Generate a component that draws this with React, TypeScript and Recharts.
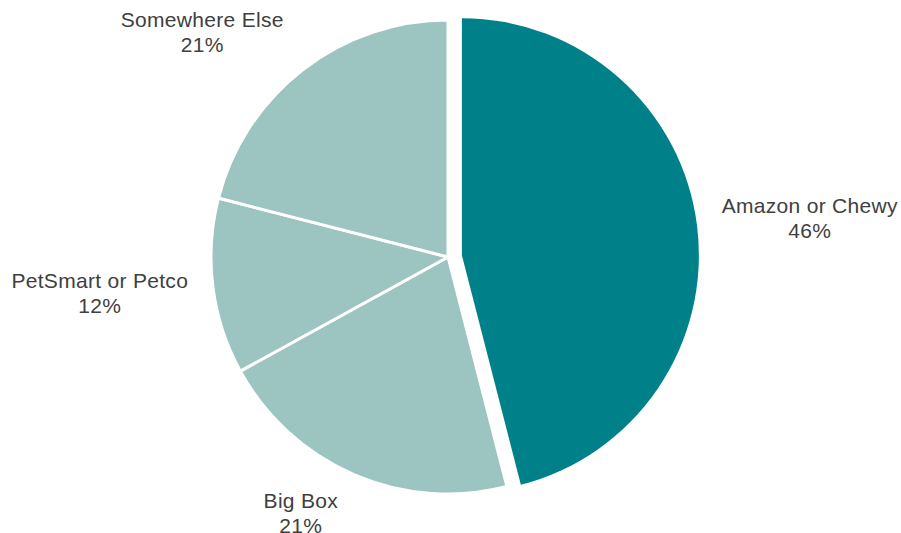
import React from 'react'
import { PieChart, Pie, Cell } from 'recharts'

const categories = ['Amazon or Chewy', 'Big Box', 'PetSmart or Petco', 'Somewhere Else']
const shares = [46, 21, 12, 21]
const pulledOut = 'Amazon or Chewy'

const data = categories.map((name, i) => ({ name, value: shares[i] }))

const DARK = '#00818a'
const LIGHT = '#9cc4c0'
const TEXT = '#404040'
const W = 901
const H = 533
const CX = 448
const CY = 257
const R = 237
const EXPLODE = 14
const FONT = 21
const SPACING = 0.3
const FAMILY = "'Liberation Sans', Arial, sans-serif"
const LINE = 25

const RAD = Math.PI / 180

// offset of the pulled out slice, along its middle angle
const pullIndex = categories.indexOf(pulledOut)
const before = shares.slice(0, pullIndex).reduce((a, b) => a + b, 0)
const total = shares.reduce((a, b) => a + b, 0)
const pullMid = 90 - ((before + shares[pullIndex] / 2) / total) * 360
const pullDx = EXPLODE * Math.cos(pullMid * RAD)
const pullDy = -EXPLODE * Math.sin(pullMid * RAD)

const clamp = (v: number) => Math.max(-1, Math.min(1, v))

let ctx: CanvasRenderingContext2D | null = null
const textWidth = (s: string) => {
  if (!ctx) ctx = document.createElement('canvas').getContext('2d')
  if (!ctx) return s.length * FONT * 0.56
  ctx.font = `${FONT}px ${FAMILY}`
  return ctx.measureText(s).width + SPACING * (s.length - 1)
}

const makeLabel = (show: (i: number) => boolean) => (props: any) => {
  const { cx, cy, midAngle, outerRadius, index, percent } = props
  if (!show(index)) return null
  const dx = Math.cos(-midAngle * RAD)
  const dy = Math.sin(-midAngle * RAD)
  const ax = cx + (outerRadius + 15) * dx + Math.sign(dx) * 10
  const ay = cy + (outerRadius + 15) * dy
  const name = categories[index]
  const w = textWidth(name)
  const h = LINE * 2
  const x = ax + (w / 2) * clamp(dx * 3)
  const y = ay + (h / 2) * clamp(dy * 1.5)
  return (
    <text
      x={x}
      y={y}
      textAnchor="middle"
      fill={TEXT}
      fontSize={FONT}
      fontFamily={FAMILY}
      letterSpacing={SPACING}
    >
      <tspan x={x} dy={-LINE / 2 + 7}>{name}</tspan>
      <tspan x={x} dy={LINE}>{`${Math.round(percent * 100)}%`}</tspan>
    </text>
  )
}

export default function App() {
  return (
    <div style={{ position: 'absolute', left: 0, top: 0, background: '#fff' }}>
      <PieChart width={W} height={H} margin={{ top: 0, right: 0, bottom: 0, left: 0 }}>
        <Pie
          data={data}
          dataKey="value"
          nameKey="name"
          cx={CX}
          cy={CY}
          outerRadius={R}
          startAngle={90}
          endAngle={-270}
          stroke="#fff"
          strokeWidth={3}
          labelLine={false}
          label={makeLabel((i) => i !== pullIndex)}
          isAnimationActive={false}
        >
          {data.map((d, i) => (
            <Cell
              key={`a-${i}`}
              fill={i === pullIndex ? 'none' : LIGHT}
              stroke={i === pullIndex ? 'none' : '#fff'}
            />
          ))}
        </Pie>
        <Pie
          data={data}
          dataKey="value"
          nameKey="name"
          cx={CX + pullDx}
          cy={CY + pullDy}
          outerRadius={R}
          startAngle={90}
          endAngle={-270}
          stroke="none"
          labelLine={false}
          label={makeLabel((i) => i === pullIndex)}
          isAnimationActive={false}
        >
          {data.map((d, i) => (
            <Cell key={`b-${i}`} fill={i === pullIndex ? DARK : 'none'} />
          ))}
        </Pie>
      </PieChart>
    </div>
  )
}
